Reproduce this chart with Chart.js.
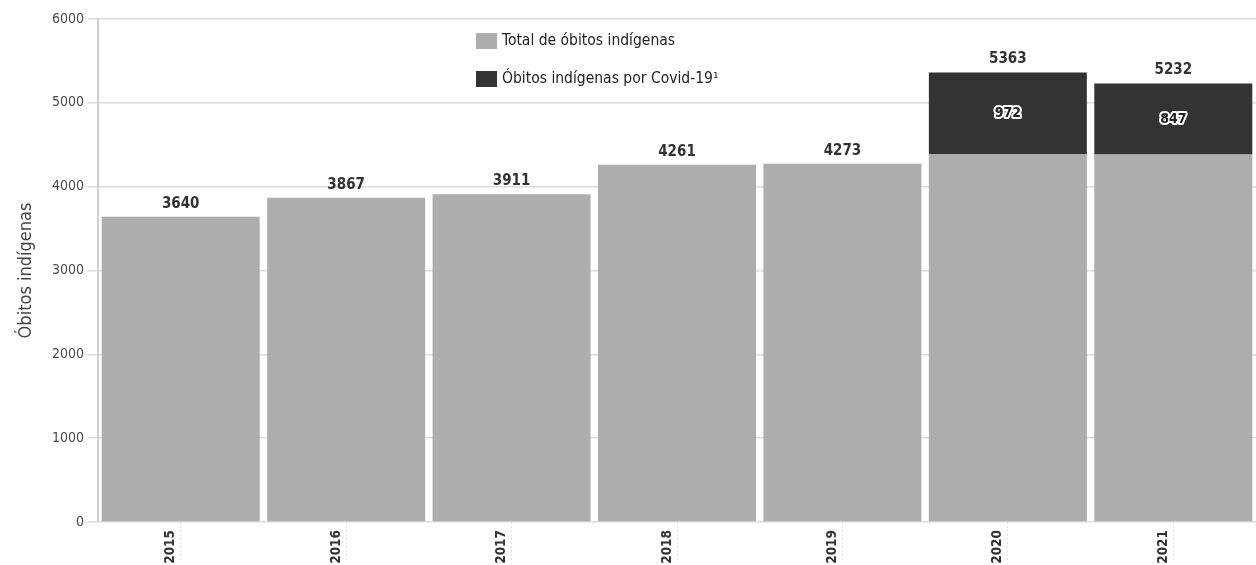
<!DOCTYPE html>
<html>
<head>
<meta charset="utf-8">
<script src="https://cdn.jsdelivr.net/npm/chart.js@4/dist/chart.umd.min.js"></script>
<style>
    html, body {
        margin: 0;
        padding: 0;
        background: #ffffff;
    }
    #wrap {
        width: 1256px;
        height: 565px;
        position: relative;
    }
</style>
</head>
<body>
<div id="wrap">
    <canvas id="obitosChart"></canvas>
</div>
<script>

const years =
    ['2015', '2016', '2017', '2018', '2019', '2020', '2021'];

const totalDeaths =
    [3640, 3867, 3911, 4261, 4273, 5363, 5232];

const covidDeaths =
    [null, null, null, null, null, 972, 847];

const yTicks =
    [0, 1000, 2000, 3000, 4000, 5000, 6000];

const seriesNames =
    ['Total de óbitos indígenas', 'Óbitos indígenas por Covid-19¹'];

const FONT =
    '"Liberation Sans Narrow", "DejaVu Sans Condensed", Roboto, sans-serif';

const GRAY = '#adadad';
const DARK = '#333333';

// part of the total that is not covid, so the stack reaches the total
const baseDeaths =
    totalDeaths.map((t, i) => t - (covidDeaths[i] || 0));

const labelsPlugin = {

    id: 'barLabels',

    afterDatasetsDraw(chart) {

        const ctx = chart.ctx;
        const yScale = chart.scales.y;
        const xScale = chart.scales.x;

        ctx.save();
        ctx.textAlign = 'center';
        ctx.textBaseline = 'middle';

        // totals above each stack
        ctx.font = `bold 15px ${FONT}`;
        ctx.fillStyle = '#333333';
        totalDeaths.forEach((v, i) => {
            const x = xScale.getPixelForValue(i);
            const y = yScale.getPixelForValue(v);
            ctx.fillText(String(v), x, y - 13);
        });

        // covid values in the middle of the dark segment
        ctx.font = `bold 14px ${FONT}`;
        ctx.lineJoin = 'round';
        covidDeaths.forEach((v, i) => {
            if (v == null) {
                return;
            }
            const x = xScale.getPixelForValue(i);
            const y = yScale.getPixelForValue(baseDeaths[i] + v / 2);
            ctx.lineWidth = 4;
            ctx.strokeStyle = '#ffffff';
            ctx.strokeText(String(v), x, y);
            ctx.fillStyle = '#222222';
            ctx.fillText(String(v), x, y);
        });

        // legend
        const colors = [GRAY, DARK];
        ctx.textAlign = 'left';
        ctx.font = `15.5px ${FONT}`;
        seriesNames.forEach((name, i) => {
            const top = 33 + i * 38;
            ctx.fillStyle = colors[i];
            ctx.fillRect(476, top, 21, 16);
            ctx.fillStyle = '#222222';
            ctx.fillText(name, 502, top + 8);
        });

        ctx.restore();
    }

};

new Chart(document.getElementById('obitosChart'), {

    type: 'bar',

    data: {

        labels: years,

        datasets: [
            {
                label: seriesNames[0],
                data: baseDeaths,
                backgroundColor: GRAY,
                barPercentage: 0.955,
                categoryPercentage: 1
            },
            {
                label: seriesNames[1],
                data: covidDeaths,
                backgroundColor: DARK,
                barPercentage: 0.955,
                categoryPercentage: 1
            }
        ]

    },

    options: {

        responsive: true,

        maintainAspectRatio: false,

        animation: false,

        layout: {
            padding: {
                top: 19,
                right: 0,
                left: 0,
                bottom: 0
            }
        },

        plugins: {
            legend: {
                display: false
            },
            tooltip: {
                enabled: false
            }
        },

        scales: {

            x: {
                stacked: true,
                grid: {
                    offset: false,
                    drawOnChartArea: false,
                    tickLength: 38,
                    color: '#e2e2e2',
                    tickBorderDash: [2, 2]
                },
                border: {
                    display: false
                },
                ticks: {
                    minRotation: 90,
                    maxRotation: 90,
                    padding: -30,
                    labelOffset: -10,
                    color: '#333333',
                    font: {
                        family: FONT,
                        size: 13.5,
                        weight: 'bold'
                    }
                },
                afterFit(scale) {
                    scale.height = 43;
                }
            },

            y: {
                stacked: true,
                min: 0,
                max: 6000,
                afterBuildTicks(scale) {
                    scale.ticks = yTicks.map(v => ({ value: v }));
                },
                grid: {
                    color: '#dcdcdc',
                    lineWidth: 1.5,
                    tickLength: 10
                },
                border: {
                    color: '#d0d0d0',
                    width: 2
                },
                ticks: {
                    padding: 4,
                    color: '#4a4a4a',
                    callback: v => String(v),
                    font: {
                        family: FONT,
                        size: 14
                    }
                },
                title: {
                    display: true,
                    text: 'Óbitos indígenas',
                    color: '#444444',
                    padding: { top: 16, bottom: 0 },
                    font: {
                        family: FONT,
                        size: 18
                    }
                },
                afterFit(scale) {
                    scale.width = 98;
                }
            }

        }

    },

    plugins: [labelsPlugin]

});

</script>
</body>
</html>
